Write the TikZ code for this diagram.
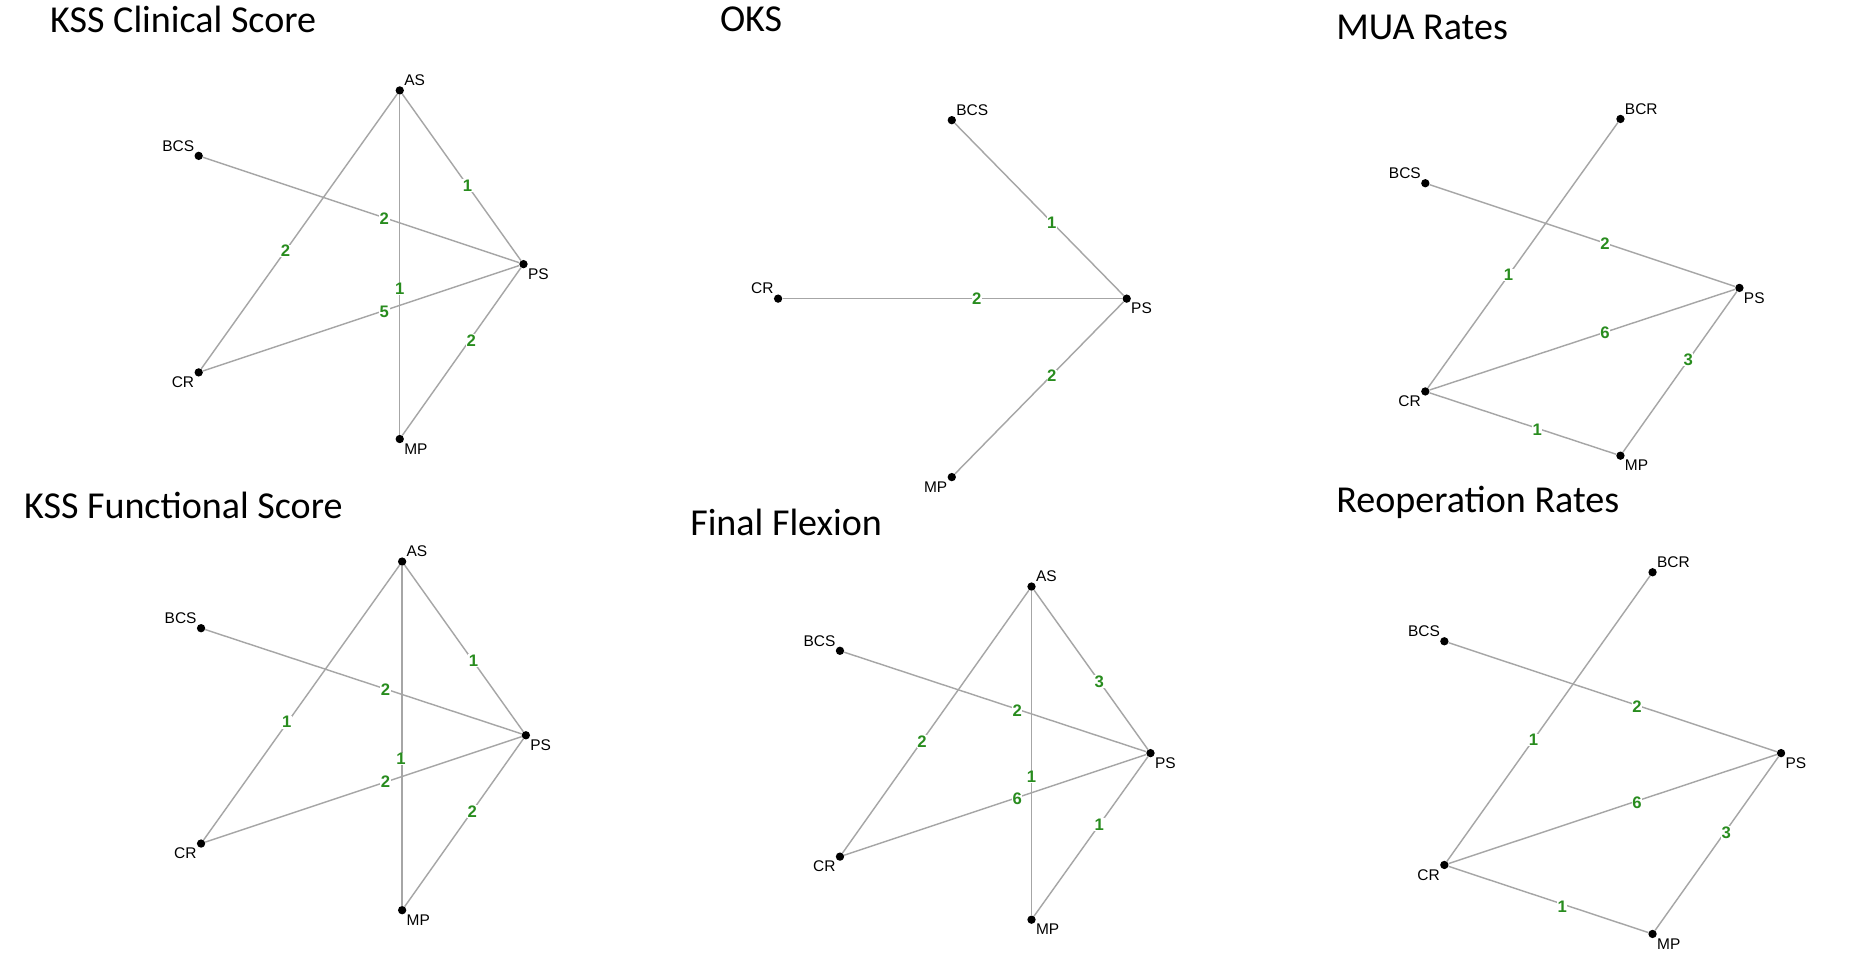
\documentclass[tikz,border=0pt]{standalone}
\usepackage{fontspec}
\setmainfont{Liberation Sans}
\newfontfamily\titlefont{Carlito}
\definecolor{eg}{RGB}{40,140,30}
\begin{document}
\begin{tikzpicture}[x=1pt,y=-1pt,
  pt/.style={circle,fill=black,inner sep=0pt,minimum size=7pt},
  lab/.style={font=\fontsize{13}{13}\selectfont,inner sep=1pt},
  e/.style={draw=gray!70,line width=1.2pt},
  w/.style={font=\bfseries\fontsize{14}{14}\selectfont,text=eg,fill=white,inner sep=0.5pt},
  ttl/.style={font=\titlefont\fontsize{32}{32}\selectfont,anchor=west,inner sep=0pt}]
\useasboundingbox[fill=white] (0,0) rectangle (1560,817);
% titles
\node[ttl] (t1) at (42,16) {KSS Clinical Score};
\node[ttl] (t2) at (605,16) {OKS};
\node[ttl] (t3) at (1123,23) {MUA Rates};
\node[ttl] (t4) at (20,425) {KSS Functional Score};
\node[ttl] (t5) at (580,439) {Final Flexion};
\node[ttl] (t6) at (1123,422) {Reoperation Rates};
% panel 1
\node[pt] (aAS) at (336,76) {}; \node[pt] (aBCS) at (167,131) {}; \node[pt] (aPS) at (440,222) {};
\node[pt] (aCR) at (167,313) {}; \node[pt] (aMP) at (336,369) {};
\draw[e] (aAS)--(aPS) node[w,pos=0.55]{1};
\draw[e] (aBCS)--(aPS); \node[w] (aw2) at (323,184) {2};
\draw[e] (aAS)--(aCR); \node[w] (aw3) at (240,211) {2};
\draw[e] (aAS)--(aMP); \node[w] (aw4) at (336,243) {1};
\draw[e] (aCR)--(aPS); \node[w] (aw5) at (323,262) {5};
\draw[e] (aMP)--(aPS); \node[w] (aw6) at (396,286) {2};
\node[lab,anchor=south west] at (aAS.north east) {AS};
\node[lab,anchor=south east] at (aBCS.north west) {BCS};
\node[lab,anchor=north west] at (aPS.south east) {PS};
\node[lab,anchor=north east] at (aCR.south west) {CR};
\node[lab,anchor=north west] at (aMP.south east) {MP};
% panel 2
\node[pt] (bBCS) at (800,101) {}; \node[pt] (bCR) at (654,251) {};
\node[pt] (bPS) at (947,251) {}; \node[pt] (bMP) at (800,401) {};
\draw[e] (bBCS)--(bPS); \node[w] at (884,187) {1};
\draw[e] (bCR)--(bPS); \node[w] at (821,251) {2};
\draw[e] (bMP)--(bPS); \node[w] at (884,316) {2};
\node[lab,anchor=south west] at (bBCS.north east) {BCS};
\node[lab,anchor=south east] at (bCR.north west) {CR};
\node[lab,anchor=north west] at (bPS.south east) {PS};
\node[lab,anchor=north east] at (bMP.south west) {MP};
% panel 3
\node[pt] (cBCR) at (1362,100) {}; \node[pt] (cBCS) at (1198,154) {}; \node[pt] (cPS) at (1462,242) {};
\node[pt] (cCR) at (1198,329) {}; \node[pt] (cMP) at (1362,383) {};
\draw[e] (cCR)--(cBCR); \node[w] at (1268,231) {1};
\draw[e] (cBCS)--(cPS); \node[w] at (1349,205) {2};
\draw[e] (cCR)--(cPS); \node[w] at (1349,280) {6};
\draw[e] (cPS)--(cMP); \node[w] at (1419,302) {3};
\draw[e] (cCR)--(cMP); \node[w] at (1292,361) {1};
\node[lab,anchor=south west] at (cBCR.north east) {BCR};
\node[lab,anchor=south east] at (cBCS.north west) {BCS};
\node[lab,anchor=north west] at (cPS.south east) {PS};
\node[lab,anchor=north east] at (cCR.south west) {CR};
\node[lab,anchor=north west] at (cMP.south east) {MP};
% panel 4
\node[pt] (dAS) at (338,472) {}; \node[pt] (dBCS) at (169,528) {}; \node[pt] (dPS) at (442,618) {};
\node[pt] (dCR) at (169,709) {}; \node[pt] (dMP) at (338,765) {};
\draw[e] (dAS)--(dPS); \node[w] at (398,555) {1};
\draw[e] (dBCS)--(dPS); \node[w] at (324,580) {2};
\draw[e] (dAS)--(dCR); \node[w] at (241,607) {1};
\draw[e] (dAS)--(dMP); \node[w] at (337,638) {1};
\draw[e] (dCR)--(dPS); \node[w] at (324,657) {2};
\draw[e] (dMP)--(dPS); \node[w] at (397,682) {2};
\node[lab,anchor=south west] at (dAS.north east) {AS};
\node[lab,anchor=south east] at (dBCS.north west) {BCS};
\node[lab,anchor=north west] at (dPS.south east) {PS};
\node[lab,anchor=north east] at (dCR.south west) {CR};
\node[lab,anchor=north west] at (dMP.south east) {MP};
% panel 5
\node[pt] (eAS) at (867,493) {}; \node[pt] (eBCS) at (706,547) {}; \node[pt] (ePS) at (967,633) {};
\node[pt] (eCR) at (706,720) {}; \node[pt] (eMP) at (867,773) {};
\draw[e] (eAS)--(ePS); \node[w] at (924,573) {3};
\draw[e] (eBCS)--(ePS); \node[w] at (855,597) {2};
\draw[e] (eAS)--(eCR); \node[w] at (775,623) {2};
\draw[e] (eAS)--(eMP); \node[w] at (867,653) {1};
\draw[e] (eCR)--(ePS); \node[w] at (855,671) {6};
\draw[e] (eMP)--(ePS); \node[w] at (924,693) {1};
\node[lab,anchor=south west] at (eAS.north east) {AS};
\node[lab,anchor=south east] at (eBCS.north west) {BCS};
\node[lab,anchor=north west] at (ePS.south east) {PS};
\node[lab,anchor=north east] at (eCR.south west) {CR};
\node[lab,anchor=north west] at (eMP.south east) {MP};
% panel 6
\node[pt] (fBCR) at (1389,481) {}; \node[pt] (fBCS) at (1214,539) {}; \node[pt] (fPS) at (1497,633) {};
\node[pt] (fCR) at (1214,727) {}; \node[pt] (fMP) at (1389,785) {};
\draw[e] (fCR)--(fBCR); \node[w] at (1289,622) {1};
\draw[e] (fBCS)--(fPS); \node[w] at (1376,594) {2};
\draw[e] (fCR)--(fPS); \node[w] at (1376,675) {6};
\draw[e] (fPS)--(fMP); \node[w] at (1451,700) {3};
\draw[e] (fCR)--(fMP); \node[w] at (1313,762) {1};
\node[lab,anchor=south west] at (fBCR.north east) {BCR};
\node[lab,anchor=south east] at (fBCS.north west) {BCS};
\node[lab,anchor=north west] at (fPS.south east) {PS};
\node[lab,anchor=north east] at (fCR.south west) {CR};
\node[lab,anchor=north west] at (fMP.south east) {MP};
\end{tikzpicture}
\end{document}
